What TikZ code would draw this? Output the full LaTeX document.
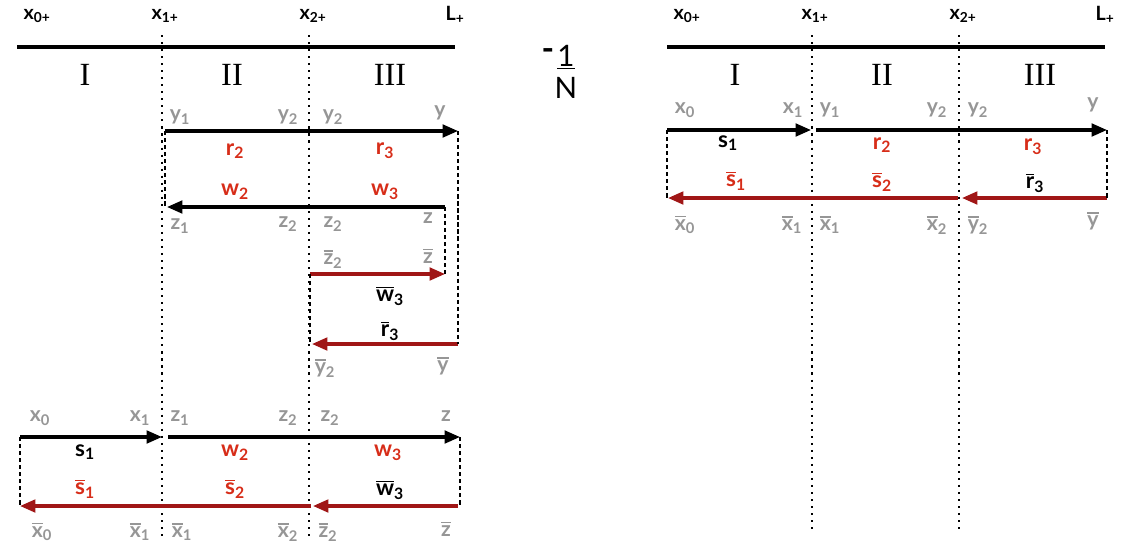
\documentclass[tikz,border=0pt]{standalone}
\usepackage{fontspec}
\setmainfont{Liberation Serif}
\newfontfamily\lab{Lato}
\usetikzlibrary{arrows.meta,positioning}
\definecolor{lgray}{RGB}{150,150,150}
\definecolor{lred}{RGB}{215,45,25}
\definecolor{dred}{RGB}{160,22,22}
\newcommand\ol[1]{\leavevmode\vbox{\hrule height 1.1pt\kern 1.3pt\hbox{#1}}}
\tikzstyle{headlbl} = [font=\lab\bfseries\fontsize{14}{14}\selectfont, inner sep=1pt]
\tikzstyle{zonelbl} = [font=\fontsize{23}{23}\selectfont, inner sep=1pt]
\tikzstyle{fraclbl} = [font=\lab\fontsize{21}{21}\selectfont, inner sep=1pt]
\tikzstyle{lbl} = [text=lgray, font=\lab\bfseries\fontsize{15}{15}\selectfont, inner sep=1pt]
\tikzstyle{fnlbl} = [text=lred, font=\lab\bfseries\fontsize{16}{16}\selectfont, inner sep=1pt]
\tikzstyle{fnblack} = [fnlbl, text=black]
\tikzstyle{axisline} = [line width=2.6pt]
\tikzstyle{fwd} = [->, line width=2.2pt]
\tikzstyle{bwd} = [->, line width=2.2pt, dred]
\tikzstyle{link} = [line width=1.4pt, dash pattern=on 3pt off 2pt]
\tikzstyle{sepline} = [line width=1.5pt, dash pattern=on 1.5pt off 3.5pt]

\begin{document}
\begin{tikzpicture}[x=0.025cm,y=-0.025cm,>={Triangle[length=11pt,width=9pt]}]
    \useasboundingbox (0,0) rectangle (1124,554);
    \foreach \ox/\p/\b in {0/l/540,650/r/532} {
        \node[headlbl] (\p x0) at (\ox+37,16) {x\textsubscript{0+}};
        \node[headlbl] (\p x1) at (\ox+165,16) {x\textsubscript{1+}};
        \node[headlbl] (\p x2) at (\ox+313,16) {x\textsubscript{2+}};
        \node[headlbl] (\p L) at (\ox+455,15) {L\textsubscript{+}};
        \draw[axisline] (\ox+17,47) -- (\ox+455,47);
        \node[zonelbl] (\p I) at (\ox+85,75) {I};
        \node[zonelbl] (\p II) at (\ox+232,75) {II};
        \node[zonelbl] (\p III) at (\ox+390,75) {III};
        \draw[sepline] (\ox+162,35) -- (\ox+162,\b);
        \draw[sepline] (\ox+309,35) -- (\ox+309,\b);
    }

    \node[fraclbl] (one) at (566,57) {\underline{1}};
    \node[fraclbl] (nn) at (566,88) {N};
    \node[fraclbl, font=\lab\bfseries\fontsize{24}{24}\selectfont] (minus) at (548,55) {-};

    % left, upper part
    \node[lbl] (lly1) at (180,117) {y\textsubscript{1}};
    \node[lbl] (lly2) at (288,117) {y\textsubscript{2}};
    \node[lbl] (lly2b) at (333,117) {y\textsubscript{2}};
    \node[lbl] (lly) at (440,113) {y};
    \coordinate (ly1) at (165,131);
    \coordinate (ly) at (458,131);
    \draw[fwd] (ly1) -- (ly);
    \node[fnlbl] (lr2) at (235,151) {r\textsubscript{2}};
    \node[fnlbl] (lr3) at (385,151) {r\textsubscript{3}};
    \node[fnlbl] (lw2) at (235,192) {w\textsubscript{2}};
    \node[fnlbl] (lw3) at (385,192) {w\textsubscript{3}};
    \coordinate (lz) at (445,207);
    \coordinate (lz1) at (167,207);
    \draw[fwd] (lz) -- (lz1);
    \node[lbl] (llz1) at (180,226) {z\textsubscript{1}};
    \node[lbl] (llz2) at (288,224) {z\textsubscript{2}};
    \node[lbl] (llz2b) at (333,224) {z\textsubscript{2}};
    \node[lbl] (llz) at (428,218) {z};
    \node[lbl] (llzb2) at (333,259) {\ol{z}\textsubscript{2}};
    \node[lbl] (llzb) at (428,256) {\ol{z}};
    \coordinate (lzb2) at (310,274);
    \coordinate (lzb) at (445,274);
    \draw[bwd] (lzb2) -- (lzb);
    \node[fnblack] (lwb3) at (390,296) {\ol{w}\textsubscript{3}};
    \node[fnblack] (lrb3) at (390,331) {\ol{r}\textsubscript{3}};
    \coordinate (lyb) at (458,344);
    \coordinate (lyb2) at (312,344);
    \draw[bwd] (lyb) -- (lyb2);
    \node[lbl] (llyb2) at (325,368) {\ol{y}\textsubscript{2}};
    \node[lbl] (llyb) at (443,366) {\ol{y}};
    \draw[link] (ly1) -- (ly1 |- lz1);
    \draw[link] (ly) -- (lyb);
    \draw[link] (lz) -- (lzb);
    \draw[link] (lzb2) -- (lzb2 |- lyb2);

    % left, lower part
    \node[lbl] (blx0) at (40,418) {x\textsubscript{0}};
    \node[lbl] (blx1) at (140,418) {x\textsubscript{1}};
    \node[lbl] (blz1) at (180,418) {z\textsubscript{1}};
    \node[lbl] (blz2) at (288,418) {z\textsubscript{2}};
    \node[lbl] (blz2b) at (330,418) {z\textsubscript{2}};
    \node[lbl] (blz) at (446,416) {z};
    \coordinate (bx0) at (20,437);
    \coordinate (bx1) at (162,437);
    \coordinate (bz1) at (168,437);
    \coordinate (bz) at (460,437);
    \draw[fwd] (bx0) -- (bx1);
    \draw[fwd] (bz1) -- (bz);
    \node[fnblack] (bs1) at (85,452) {s\textsubscript{1}};
    \node[fnlbl] (bw2) at (235,453) {w\textsubscript{2}};
    \node[fnlbl] (bw3) at (388,453) {w\textsubscript{3}};
    \node[fnlbl] (bsb1) at (85,489) {\ol{s}\textsubscript{1}};
    \node[fnlbl] (bsb2) at (235,489) {\ol{s}\textsubscript{2}};
    \node[fnblack] (bwb3) at (390,490) {\ol{w}\textsubscript{3}};
    \coordinate (bxb2) at (311,506);
    \coordinate (bxb0) at (20,506);
    \coordinate (bzb) at (458,506);
    \coordinate (bzb2) at (313,506);
    \draw[bwd] (bxb2) -- (bxb0);
    \draw[bwd] (bzb) -- (bzb2);
    \draw[link] (bx0) -- (bxb0);
    \draw[link] (bz) -- (bz |- bzb);
    \node[lbl] (blxb0) at (42,532) {\ol{x}\textsubscript{0}};
    \node[lbl] (blxb1) at (140,532) {\ol{x}\textsubscript{1}};
    \node[lbl] (blxb1b) at (182,532) {\ol{x}\textsubscript{1}};
    \node[lbl] (blxb2) at (288,532) {\ol{x}\textsubscript{2}};
    \node[lbl] (blzb2) at (328,532) {\ol{z}\textsubscript{2}};
    \node[lbl] (blzb) at (446,529) {\ol{z}};

    % right part
    \node[lbl] (rlx0) at (685,110) {x\textsubscript{0}};
    \node[lbl] (rlx1) at (793,110) {x\textsubscript{1}};
    \node[lbl] (rly1) at (830,110) {y\textsubscript{1}};
    \node[lbl] (rly2) at (937,110) {y\textsubscript{2}};
    \node[lbl] (rly2b) at (978,110) {y\textsubscript{2}};
    \node[lbl] (rly) at (1093,105) {y};
    \coordinate (rx0) at (667,130);
    \coordinate (rx1) at (811,130);
    \coordinate (ry1) at (816,130);
    \coordinate (ry) at (1107,130);
    \draw[fwd] (rx0) -- (rx1);
    \draw[fwd] (ry1) -- (ry);
    \node[fnblack] (rs1) at (728,143) {s\textsubscript{1}};
    \node[fnlbl] (rr2) at (882,145) {r\textsubscript{2}};
    \node[fnlbl] (rr3) at (1033,147) {r\textsubscript{3}};
    \node[fnlbl] (rsb1) at (736,181) {\ol{s}\textsubscript{1}};
    \node[fnlbl] (rsb2) at (882,182) {\ol{s}\textsubscript{2}};
    \node[fnblack] (rrb3) at (1035,183) {\ol{r}\textsubscript{3}};
    \coordinate (rxb2) at (958,198);
    \coordinate (rxb0) at (668,198);
    \coordinate (ryb) at (1107,198);
    \coordinate (ryb2) at (962,198);
    \draw[bwd] (rxb2) -- (rxb0);
    \draw[bwd] (ryb) -- (ryb2);
    \draw[link] (rx0) -- (rx0 |- rxb0);
    \draw[link] (ry) -- (ryb);
    \node[lbl] (rlxb0) at (685,225) {\ol{x}\textsubscript{0}};
    \node[lbl] (rlxb1) at (792,225) {\ol{x}\textsubscript{1}};
    \node[lbl] (rlxb1b) at (830,225) {\ol{x}\textsubscript{1}};
    \node[lbl] (rlxb2) at (937,225) {\ol{x}\textsubscript{2}};
    \node[lbl] (rlyb2) at (978,225) {\ol{y}\textsubscript{2}};
    \node[lbl] (rlyb) at (1093,221) {\ol{y}};
\end{tikzpicture}
\end{document}
